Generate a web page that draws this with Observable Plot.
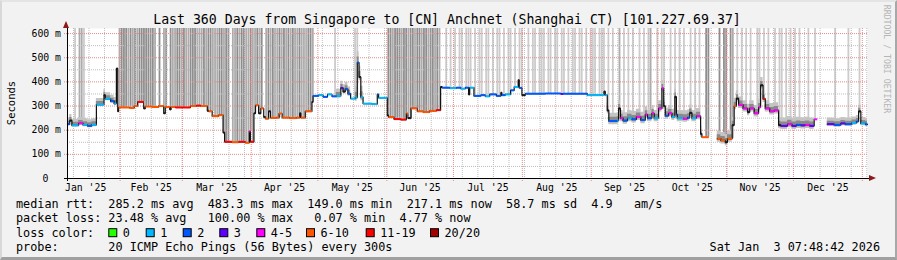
<!DOCTYPE html>
<html><head><meta charset="utf-8">
<script src="https://cdn.jsdelivr.net/npm/d3@7"></script>
<script src="https://cdn.jsdelivr.net/npm/@observablehq/plot@0.6"></script>
<style>
html,body{margin:0;padding:0;background:#f2f2f2;}
#wrap{position:relative;width:897px;height:260px;overflow:hidden;background:#f2f2f2;}
#wrap svg{position:absolute;left:0;top:0;}
#border{position:absolute;left:0;top:0;width:897px;height:260px;box-sizing:border-box;border-top:2px solid #e4e4e4;border-left:2px solid #d8d8d8;border-right:2px solid #a8a8a8;border-bottom:3px solid #a0a0a0;pointer-events:none;}
</style></head>
<body><div id="wrap"><div id="border"></div></div>
<script>
// ---------- data ----------
const titleText = "Last 360 Days from Singapore to [CN] Anchnet (Shanghai CT) [101.227.69.37]";
const monthLabels = ["Jan '25","Feb '25","Mar '25","Apr '25","May '25","Jun '25","Jul '25","Aug '25","Sep '25","Oct '25","Nov '25","Dec '25"];
const yTickValues = [0,100,200,300,400,500,600];
const yTickLabels = ["0","100 m","200 m","300 m","400 m","500 m","600 m"];
const lossLabels = ["0","1","2","3","4-5","6-10","11-19","20/20"];
const lossColors = ["#26ff00","#00b8ff","#0059ff","#5e00ff","#ff00ff","#ff5500","#ff0000","#a10000","#1a1a1a"];

// median rtt: day offset from start, value (ms), loss class (8 = black)
const medianDay = [0,1,2,5,7,9,11,13,16.4,17,19.4,21,22,22.6,23,28,30,31.6,34.3,35,38,41,43.3,44,46,46.6,48.6,52,55.3,58,60,62.9,63.5,65.1,68,70,70.7,74,77,80,81.8,82.3,83.9,84.6,86,87,88.3,89,90.5,91.4,94,95.2,96.6,100,103,104.5,105,107,110,110.5,113,115,117,119,121,123,124,125,126.2,127.4,129.5,130.4,131.2,132,133,137,139.4,140,143.9,144.5,146.9,150,152.5,153.2,154.6,157.4,160,163,166,167.9,168.6,172,175,177,179,180.5,181,182.9,186,188,190,193,195,195.5,197,199.4,201,202.8,203.3,204.5,206,215,222,223,233.9,240,241.4,242,242.9,243.6,247.4,248,248.8,250,252,254,256,258,260,261,263,264,266,267.5,268.3,269,270.5,272,273.3,274,274.4,277,279,280,281,283,284.9,285.5,288.6,292.4,294,296,297,299.1,300,301,302,304,306,307,309,311,311.9,313,314,316,318,320,321,324,326,328,330,332,334,336,337.4,341.9,345,348,350,353,355,356,357,359.1,360];
const medianMs = [225,240,220,228,222,218,222,306,345,330,320,310,455,278,294,292,300,317,290,298,296,300,270,296,286,296,294,294,300,302,300,280,278,258,262,190,152,150,152,148,195,152,270,303,270,290,255,248,278,251,252,269,252,250,252,270,252,278,317,342,345,338,348,340,342,375,360,370,351,331,335,480,420,337,310,308,348,334,261,254,246,244,269,250,290,278,275,280,283,379,376,374,376,372,376,348,376,342,345,340,348,342,355,345,348,365,379,407,375,345,351,352,350,351,345,346,360,345,282,238,240,290,250,240,250,245,255,242,265,250,270,250,290,373,300,260,270,255,338,265,250,248,252,272,250,258,185,171,null,165,158,150,165,221,300,331,305,290,275,290,270,295,386,330,290,278,282,221,218,225,218,222,220,222,218,245,null,225,222,228,225,230,236,278,228,224,224];
const medianLoss = [2,8,1,4,1,2,1,1,8,1,2,1,8,8,5,5,5,6,8,5,5,5,8,5,8,5,6,6,5,6,5,8,5,5,5,8,6,5,6,5,4,6,8,5,8,5,8,5,8,5,5,5,5,5,5,8,5,5,8,2,1,2,1,2,1,3,8,2,2,1,1,2,8,1,1,1,2,1,8,5,6,6,5,8,5,5,5,5,6,8,2,1,2,1,2,8,1,2,2,1,2,2,8,2,1,2,1,8,2,8,2,2,3,2,1,1,8,1,8,2,1,8,4,2,1,2,4,2,4,2,4,1,4,4,8,2,4,1,8,2,1,4,2,8,1,4,8,5,5,5,5,8,5,8,5,8,4,4,8,4,4,4,8,6,4,4,4,8,3,4,3,2,3,4,3,4,4,3,2,3,2,1,2,8,1,2,2];

// smoke reaching the top of the graph (day offsets), by shade
const darkBars = [24,25,26,28,30,32,33,34,35,36,37,38,41,44,46,49,50,52,55,56,57,61,63,64,68,69,71,72,76,78,79,82,85,87,90,92,95,97,99,101,104,108,109,144,145,147,148,149,151,152,154,155,157,158,160,161,163,164,166,287,288,293,295,296,298];
const midBars = [5,6,23,27,29,31,39,43,47,48,51,53,54,58,59,60,62,65,66,67,70,74,75,77,80,81,83,84,86,89,91,93,94,96,98,100,102,103,105,106,107,110,146,150,153,156,159,162,165,167,248,262,299];
const lightBars = [3,7,120,129,130,170,172,174,176,177,179,180,181,183,185,186,188,189,191,193,194,196,198,199,201,203,204,207,209,210,212,213,214,216,217,219,220,222,223,225,227,228,230,231,233,235,236,237,239,240,241,243,245,250,252,254,257,259,261,265,267,268,271,273,275,277,280,282,284,301,303,305,307,310,311,313,315,318,320,321,323,325,327,329,333,336,345,351,356];

// smoke spread around the median
const smokeStart = [0,121,129.5,242.9,292.4,341.9];
const smokeEnd   = [22,126.5,133,288.6,337.4,360];
const smokeUp    = [25,28,45,32,32,25];
const smokeDown  = [8,10,15,15,15,10];

const legendRtt  = "median rtt:  285.2 ms avg  483.3 ms max  149.0 ms min  217.1 ms now  58.7 ms sd  4.9   am/s";
const legendLoss = "packet loss: 23.48 % avg   100.00 % max   0.07 % min  4.77 % now";
const legendProbe = "probe:       20 ICMP Echo Pings (56 Bytes) every 300s";
const stampText = "Sat Jan  3 07:48:42 2026";

// ---------- build ----------
const DAY = 864e5;
const t0 = Date.UTC(2025,0,8,7,48,42);
const toDate = d => new Date(t0 + d*DAY);
const t1 = toDate(360);

const med = medianDay.map((d,i)=>({d, t: toDate(d), v: medianMs[i], c: medianLoss[i]}));
const segs = [];
for (let i=0;i<med.length-1;i++){
  if (med[i].v==null) continue;
  segs.push({x1: med[i].t, x2: med[i+1].t, y: med[i].v, col: lossColors[med[i].c]});
}
function medAt(d){ let v=null; for(const p of med){ if(p.d<=d) v=p.v; else break;} return v; }
function barsOf(arr){
  const out = [];
  arr.forEach(d=>{ const v=medAt(d); if(v!=null) out.push({t: toDate(d + 0.4), y1: v, y2: 621}); });
  return out;
}
const lightData = barsOf(lightBars), midData = barsOf(midBars), darkData = barsOf(darkBars);
function smokeIdx(d){ for(let k=0;k<smokeStart.length;k++){ if(d>=smokeStart[k] && d<smokeEnd[k]) return k;} return -1; }
const smoke = med.map(p=>{ const k=smokeIdx(p.d); return {t:p.t, v:p.v, up: k<0?0:smokeUp[k], dn: k<0?0:smokeDown[k]}; });

const monthStarts = d3.utcMonth.range(d3.utcMonth.floor(new Date(t0)), t1);
const monthMids = monthStarts.map((m,i)=>({t: new Date((+m + +d3.utcMonth.offset(m,1))/2), label: monthLabels[i]}));
const majorX = d3.utcMonth.range(new Date(t0), t1);
const minorX = d3.utcSaturday.range(new Date(t0), t1);
const minorY = d3.range(50, 621, 100);

const font = "DejaVu Sans Mono";
const barOpts = {x: "t", y1: "y1", y2: "y2", strokeWidth: 1.8};
const chart = Plot.plot({
  width: 897, height: 260,
  marginLeft: 67, marginRight: 30, marginTop: 28, marginBottom: 82,
  x: {type: "utc", domain: [new Date(t0), t1], axis: null},
  y: {domain: [0, 621], axis: null},
  color: {type: "identity"},
  style: {background: "transparent", fontFamily: font, overflow: "visible"},
  marks: [
    Plot.frame({fill: "white", stroke: "none"}),
    Plot.ruleX(lightData, {...barOpts, stroke: "#cccccc"}),
    Plot.ruleX(midData, {...barOpts, stroke: "#acacac"}),
    Plot.ruleX(darkData, {...barOpts, stroke: "#8e8e8e"}),
    Plot.ruleX(minorX, {stroke: "#bdbdbd", strokeDasharray: "1,1"}),
    Plot.ruleY(minorY, {stroke: "#bdbdbd", strokeDasharray: "1,1"}),
    Plot.ruleX(majorX, {stroke: "#e88c8c", strokeDasharray: "1,1", insetBottom: -3}),
    Plot.ruleY(yTickValues.slice(1), {stroke: "#e88c8c", strokeDasharray: "1,1", insetLeft: -3}),
    Plot.areaY(smoke, {x: "t", y1: d=>d.v==null?NaN:d.v-d.dn, y2: d=>d.v==null?NaN:d.v+d.up, curve: "step-after", fill: "#c4c4c4"}),
    Plot.areaY(smoke, {x: "t", y1: d=>d.v==null?NaN:d.v-d.dn*0.5, y2: d=>d.v==null?NaN:d.v+d.up*0.5, curve: "step-after", fill: "#8a8a8a"}),
    Plot.line(med, {x: "t", y: "v", curve: "step-after", stroke: "#111", strokeWidth: 1.2}),
    Plot.link(segs, {x1: "x1", x2: "x2", y1: "y", y2: "y", stroke: "col", strokeWidth: 2}),
    Plot.ruleY([0], {stroke: "#000", insetLeft: -3, insetRight: -3}),
    Plot.ruleX([new Date(t0)], {stroke: "#000", insetTop: -2, insetBottom: -3}),
    Plot.text(yTickValues.slice(1), {y: d=>d, text: (d,i)=>yTickLabels[i+1], frameAnchor: "left", dx: -6.5, textAnchor: "end", fontSize: 9.8, fill: "#000"}),
    Plot.text([0], {y: d=>d, text: d=>yTickLabels[0], frameAnchor: "left", dx: -19, textAnchor: "end", fontSize: 9.8, fill: "#000"}),
    Plot.text(monthMids, {x: "t", text: "label", frameAnchor: "bottom", dy: 9, lineAnchor: "middle", fontSize: 9.8, fill: "#000"})
  ]
});
document.getElementById("wrap").insertBefore(chart, document.getElementById("border"));

const svg = d3.select(chart);
function txt(x, y, s, o={}){
  const t = svg.append("text").attr("x", x).attr("y", y)
    .attr("font-family", font).attr("font-size", o.size||11.8)
    .attr("text-anchor", o.anchor||"start").attr("dominant-baseline","central")
    .attr("fill", o.fill||"#000").style("white-space","pre").text(s);
  if (o.transform) t.attr("transform", o.transform);
  return t;
}
// arrows
svg.append("path").attr("d","M63,28 L69,28 L66,21 Z").attr("fill","#8b1a1a");
svg.append("path").attr("d","M869,175 L869,181 L876,178 Z").attr("fill","#8b1a1a");

txt(447, 19, titleText, {size: 13.2, anchor: "middle"});
txt(0, 0, "Seconds", {size: 10.5, anchor: "middle", transform: "translate(11,103) rotate(-90)"});
txt(0, 0, "RRDTOOL / TOBI OETIKER", {size: 8.2, anchor: "middle", fill: "#b5b5b5", transform: "translate(887,59) rotate(90)"});
txt(16, 204.3, legendRtt);
txt(16, 218.3, legendLoss);
txt(16, 232.7, "loss color:");
const boxX = [108.3,145.7,182.7,219.3,256.3,306,365.7,430];
lossLabels.forEach((l,i)=>{
  svg.append("rect").attr("x", boxX[i]+0.5).attr("y", 228.7).attr("width", 8).attr("height", 8)
    .attr("fill", lossColors[i]).attr("stroke", "#000").attr("stroke-width", 1);
  txt(boxX[i]+14.5, 232.7, l);
});
txt(16, 246.7, legendProbe);
txt(880, 246.7, stampText, {anchor: "end"});
</script>
</body></html>
